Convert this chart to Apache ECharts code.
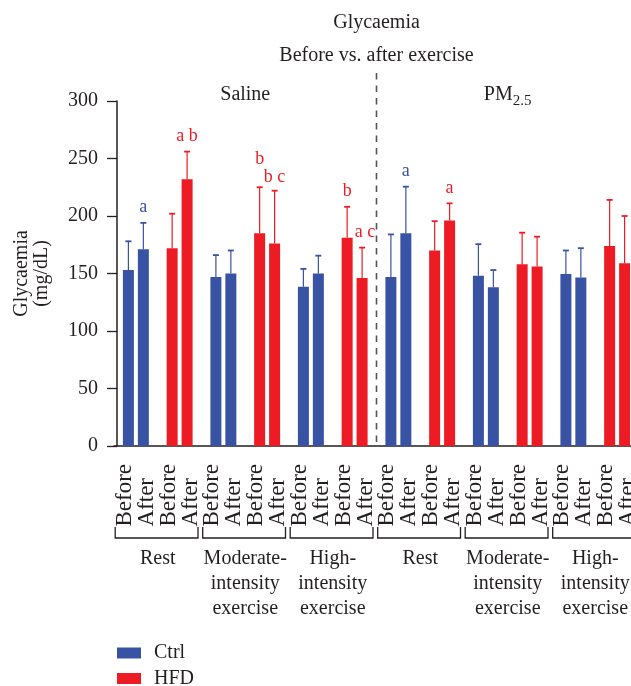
<!DOCTYPE html>
<html>
<head>
<meta charset="utf-8">
<script src="https://cdn.jsdelivr.net/npm/echarts@6/dist/echarts.min.js"></script>
<style>
  html, body { margin: 0; padding: 0; background: #ffffff; }
  #chart { width: 631px; height: 686px; }
</style>
</head>
<body>
<div id="chart"></div>
<script>
// Glycaemia (mg/dL) before vs. after exercise, by exposure, exercise protocol and diet
const panels = ['Saline', 'PM2.5'];
const exerciseGroups = ['Rest', 'Moderate-\nintensity\nexercise', 'High-\nintensity\nexercise'];
const diets = ['Ctrl', 'HFD'];
const timepoints = ['Before', 'After'];

// one slot per panel x exercise x diet, in drawing order
const beforeMean = [153, 172, 147, 185, 138.5, 181, 147, 170, 148, 158, 149.5, 174];
const beforeSD   = [25, 30, 19, 40, 15.5, 27, 37, 25.5, 27.5, 27.5, 20.5, 40];
const afterMean  = [171, 232, 150, 176, 150, 146, 185, 196, 138, 156, 146.5, 159];
const afterSD    = [23, 24, 20, 46, 15.5, 26.5, 40.5, 15, 15, 26, 25.5, 41];

// significance letters above the error bars
const beforeSig = ['', '', '', 'b', '', 'b', '', '', '', '', '', ''];
const afterSig  = ['a', 'a b', '', 'b c', '', 'a c', 'a', 'a', '', '', '', ''];

const yMin = 0, yMax = 300, yStep = 50;

// ---- derived structures ----
const slotDiet = [];
const slotNames = [];
panels.forEach(p => exerciseGroups.forEach(g => diets.forEach(d => {
  slotDiet.push(d);
  slotNames.push(p + ' ' + g.replace(/\n/g, ' ') + ' ' + d);
})));
const timeLabels = slotNames.flatMap(() => timepoints);
const groupLabels = panels.flatMap(() => exerciseGroups);

const FONT = '"Liberation Serif", "DejaVu Serif", serif';
const INK = '#231f20';
const dietColor = { Ctrl: '#3953a4', HFD: '#ed1c24' };

const BAR_W = 11;
const BAR_GAP = 0.36;                       // fraction of bar width
const pairOffset = (BAR_W + BAR_W * BAR_GAP) / 2;

// letter nudges [dx, extra lift] keyed by time + slot
const sigNudge = { 'before-3': [0, 12], 'after-3': [0, -2], 'after-5': [3, 0] };

function barData(means) {
  return means.map((v, i) => ({ value: v, itemStyle: { color: dietColor[slotDiet[i]] } }));
}

const errData = [];
slotNames.forEach((_, i) => {
  errData.push([i, beforeMean[i], beforeSD[i], 0]);
  errData.push([i, afterMean[i], afterSD[i], 1]);
});

function renderError(params, api) {
  const i = api.value(0), mean = api.value(1), sd = api.value(2), t = api.value(3);
  const base = api.coord([i, mean]);
  const tip = api.coord([i, mean + sd]);
  const x = base[0] + (t === 0 ? -pairOffset : pairOffset);
  const color = dietColor[slotDiet[i]];
  const children = [
    { type: 'line', shape: { x1: x, y1: base[1], x2: x, y2: tip[1] }, style: { stroke: color, lineWidth: 1.2 } },
    { type: 'line', shape: { x1: x - 3, y1: tip[1], x2: x + 3, y2: tip[1] }, style: { stroke: color, lineWidth: 1.8 } }
  ];
  const sig = (t === 0 ? beforeSig : afterSig)[i];
  if (sig) {
    const n = sigNudge[(t === 0 ? 'before-' : 'after-') + i] || [0, 0];
    children.push({
      type: 'text',
      style: {
        text: sig, x: x + n[0], y: tip[1] - 15.5 - n[1],
        align: 'center', verticalAlign: 'middle', textAlign: 'center', textVerticalAlign: 'middle',
        fill: color, font: '18px ' + FONT
      }
    });
  }
  return { type: 'group', children };
}

function renderBracket(params, api) {
  const c = api.coord([api.value(0), 0]);
  const w = api.size([1, 0])[0];
  const l = c[0] - w / 2 + 1.2, r = c[0] + w / 2 - 3.5;
  const y0 = c[1] + 81, y1 = c[1] + 92;
  return {
    type: 'polyline',
    shape: { points: [[l, y0], [l, y1], [r, y1], [r, y0]] },
    style: { stroke: INK, lineWidth: 1.3, fill: null }
  };
}

const chart = echarts.init(document.getElementById('chart'), null, { renderer: 'canvas' });

const option = {
  animation: false,
  backgroundColor: '#ffffff',
  textStyle: { fontFamily: FONT, color: INK },
  grid: { left: 114, right: -8, top: 101, bottom: 240, outerBoundsMode: 'none', containLabel: false },
  legend: {
    data: diets,
    orient: 'vertical',
    left: 117, top: 643, height: 80,
    padding: 0,
    itemWidth: 24, itemHeight: 11, itemGap: 5.5,
    icon: 'rect',
    selectedMode: false,
    itemStyle: { opacity: 1 },
    textStyle: { fontFamily: FONT, fontSize: 20, lineHeight: 20, color: INK, padding: [0, 0, 0, 8] }
  },
  xAxis: [
    {
      type: 'category', data: slotNames, position: 'bottom',
      axisLine: { lineStyle: { color: INK, width: 1.5 } },
      axisTick: { alignWithLabel: true, length: 10, lineStyle: { color: INK, width: 1.3 } },
      axisLabel: { show: false },
      splitLine: { show: false }
    },
    {
      type: 'category', data: timeLabels, position: 'bottom',
      axisLine: { show: false }, axisTick: { show: false }, splitLine: { show: false },
      axisLabel: {
        interval: 0, rotate: 90, align: 'left', verticalAlign: 'middle', margin: 80.5,
        fontFamily: FONT, fontSize: 23, color: INK
      }
    },
    {
      type: 'category', data: groupLabels, position: 'bottom',
      axisLine: { show: false }, axisTick: { show: false }, splitLine: { show: false },
      axisLabel: {
        interval: 0, verticalAlign: 'top', margin: 100, lineHeight: 25,
        fontFamily: FONT, fontSize: 20, color: INK
      }
    }
  ],
  yAxis: {
    type: 'value', min: yMin, max: yMax, interval: yStep,
    offset: -3,
    name: 'Glycaemia\n(mg/dL)', nameLocation: 'middle', nameGap: 65, nameRotate: 90,
    nameMoveOverlap: false,
    nameTextStyle: { fontFamily: FONT, fontSize: 20, color: INK, lineHeight: 20 },
    axisLine: { show: true, lineStyle: { color: INK, width: 1.5 } },
    axisTick: { show: true, length: 10, lineStyle: { color: INK, width: 1.3 } },
    axisLabel: { margin: 19, fontFamily: FONT, fontSize: 20, color: INK },
    splitLine: { show: false }
  },
  series: [
    { name: 'Before', type: 'bar', data: barData(beforeMean), barWidth: BAR_W, barGap: (BAR_GAP * 100) + '%', silent: true },
    { name: 'After', type: 'bar', data: barData(afterMean), barWidth: BAR_W, barGap: (BAR_GAP * 100) + '%', silent: true },
    { name: 'SD', type: 'custom', renderItem: renderError, data: errData, z: 3, silent: true },
    { name: 'groups', type: 'custom', xAxisIndex: 2, renderItem: renderBracket, data: groupLabels.map((_, i) => [i, 0]), silent: true },
    { name: 'Ctrl', type: 'scatter', data: [], itemStyle: { color: dietColor.Ctrl, opacity: 1 } },
    { name: 'HFD', type: 'scatter', data: [], itemStyle: { color: dietColor.HFD, opacity: 1 } }
  ]
};

chart.setOption(option);

// titles, panel headers and the panel divider, placed from the axis layout
const px = v => chart.convertToPixel({ xAxisIndex: 0 }, v);
const band = px(1) - px(0);
const perPanel = exerciseGroups.length * diets.length;
const yTop = chart.convertToPixel({ yAxisIndex: 0 }, yMax);
const yBase = chart.convertToPixel({ yAxisIndex: 0 }, yMin);
const splitX = px(perPanel - 1) + band / 2;
const panelCenters = panels.map((_, k) => (px(k * perPanel) + px((k + 1) * perPanel - 1)) / 2);

function label(text, x, y, size, align) {
  const a = align || 'center';
  return {
    type: 'text', x: x, y: y, silent: true,
    style: {
      text: text, fill: INK, font: size + 'px ' + FONT,
      align: a, verticalAlign: 'middle', textAlign: a, textVerticalAlign: 'middle'
    }
  };
}

// "PM" with a subscript "2.5", joined at a point just right of the panel centre
const pmJoin = panelCenters[1] + 5;

chart.setOption({
  graphic: [
    label('Glycaemia', splitX, 22.5, 20),
    label('Before vs. after exercise', splitX, 56, 20),
    label(panels[0], panelCenters[0], 95, 20),
    label('PM', pmJoin, 95, 20, 'right'),
    label('2.5', pmJoin, 101, 15, 'left'),
    {
      type: 'line', silent: true,
      shape: { x1: splitX, y1: yTop - 28, x2: splitX, y2: yBase },
      style: { stroke: '#555555', lineWidth: 1.6, lineDash: [6.5, 6] }
    }
  ]
});
</script>
</body>
</html>
